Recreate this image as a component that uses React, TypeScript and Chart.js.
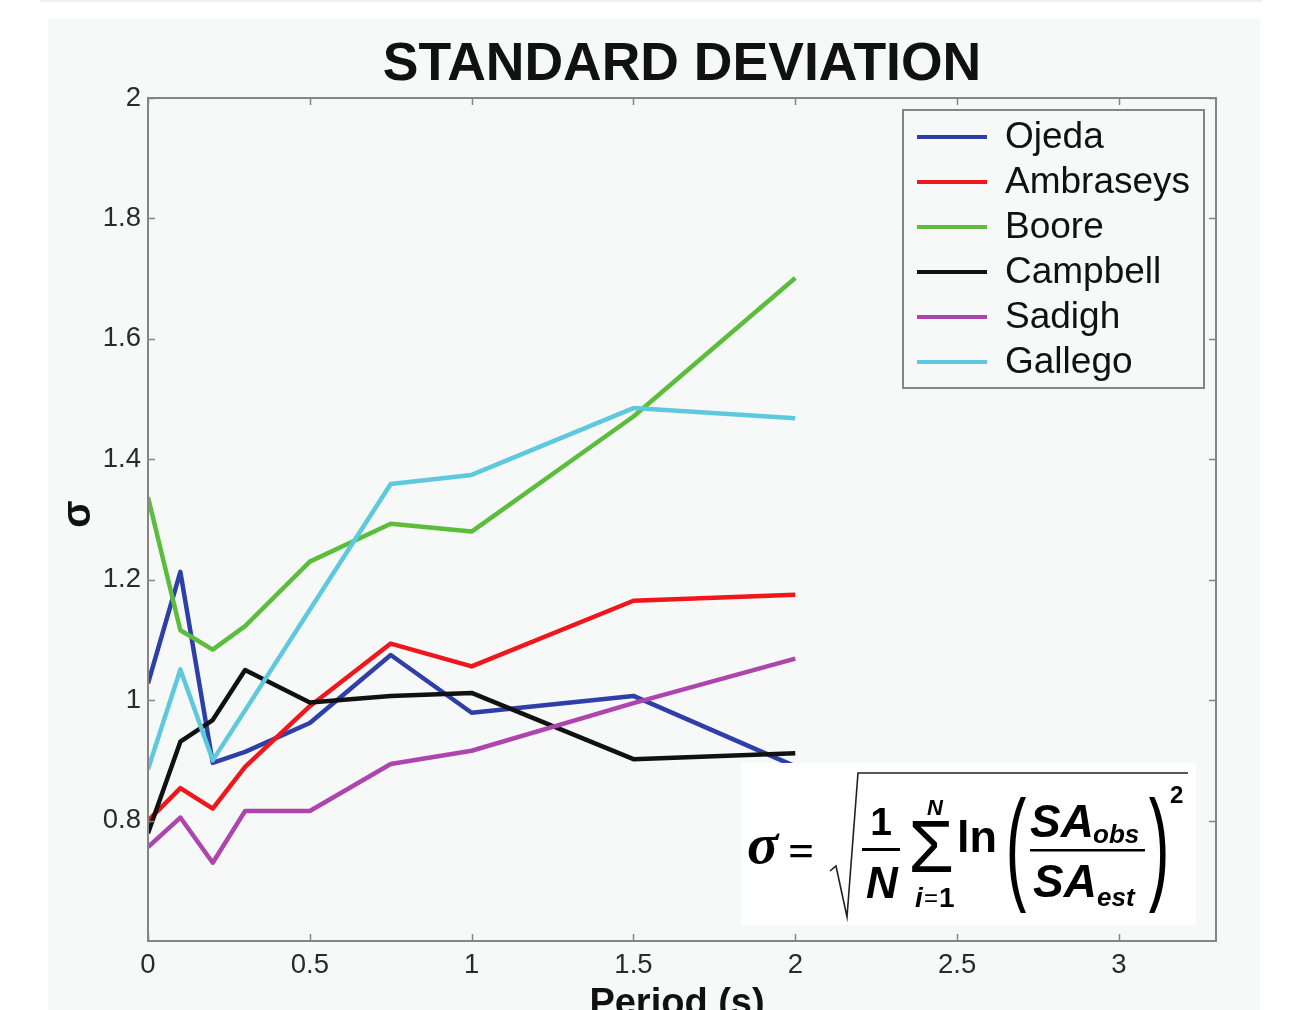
import React, { useEffect, useRef } from "react";
import { Chart, registerables } from "chart.js";

Chart.register(...registerables);

// ---- data ----
const periods = [0, 0.1, 0.2, 0.3, 0.5, 0.75, 1, 1.5, 2];
const ojeda = [1.028, 1.213, 0.896, 0.914, 0.962, 1.075, 0.979, 1.007, 0.89];
const ambraseys = [0.8, 0.854, 0.82, 0.889, 0.99, 1.094, 1.056, 1.165, 1.175];
const boore = [1.337, 1.116, 1.084, 1.123, 1.23, 1.293, 1.28, 1.471, 1.701];
const campbell = [0.779, 0.931, 0.967, 1.05, 0.996, 1.007, 1.012, 0.902, 0.912];
const sadigh = [0.756, 0.805, 0.73, 0.816, 0.816, 0.894, 0.916, 0.995, 1.069];
const gallego = [0.885, 1.051, 0.9, 0.983, 1.15, 1.359, 1.374, 1.485, 1.468];

const seriesNames = ["Ojeda", "Ambraseys", "Boore", "Campbell", "Sadigh", "Gallego"];
const seriesValues = [ojeda, ambraseys, boore, campbell, sadigh, gallego];
const seriesColors = ["#2f3fa8", "#f0171c", "#5bbd3b", "#111111", "#ad45ad", "#5ec8dc"];

const xTicks = [0, 0.5, 1, 1.5, 2, 2.5, 3];
const yTicks = [0.8, 1, 1.2, 1.4, 1.6, 1.8, 2];
const xMin = 0;
const xMax = 3.3;
const yMin = 0.6;
const yMax = 2;

const chartTitle = "STANDARD DEVIATION";
const xTitle = "Period (s)";
const yTitle = "σ";

const SANS = '"Liberation Sans", Arial, Helvetica, sans-serif';
const SERIF = '"Liberation Serif", "Times New Roman", serif';
const fmt = (v: number) => String(+Number(v).toFixed(2));

// canvas sits at page (48,18)
const OX = 48;
const OY = 18;

const decorPlugin = {
  id: "decor",
  afterDatasetsDraw(chart: any) {
    const ctx = chart.ctx as CanvasRenderingContext2D;
    const { left, right, top, bottom } = chart.chartArea;
    const xs = chart.scales.x;
    const ys = chart.scales.y;
    ctx.save();
    // axes box
    ctx.strokeStyle = "#858585";
    ctx.lineWidth = 2;
    ctx.strokeRect(left, top, right - left, bottom - top);
    // inward ticks
    ctx.lineWidth = 1.5;
    ctx.beginPath();
    const tl = 7;
    xTicks.forEach((v) => {
      const px = Math.round(xs.getPixelForValue(v)) + 0.5;
      ctx.moveTo(px, bottom);
      ctx.lineTo(px, bottom - tl);
      ctx.moveTo(px, top);
      ctx.lineTo(px, top + tl);
    });
    yTicks.forEach((v) => {
      const py = Math.round(ys.getPixelForValue(v)) + 0.5;
      ctx.moveTo(left, py);
      ctx.lineTo(left + tl, py);
      ctx.moveTo(right, py);
      ctx.lineTo(right - tl, py);
    });
    ctx.stroke();

    // title
    ctx.fillStyle = "#111";
    ctx.textAlign = "center";
    ctx.textBaseline = "alphabetic";
    ctx.font = `bold 53.5px ${SANS}`;
    ctx.fillText(chartTitle, 682 - OX, 80 - OY);
    // x title
    ctx.font = `bold 38px ${SANS}`;
    ctx.fillText(xTitle, 677 - OX, 1015 - OY);
    // y title
    ctx.save();
    ctx.translate(79 - OX, 514 - OY);
    ctx.rotate(-Math.PI / 2);
    ctx.textBaseline = "middle";
    ctx.font = `bold 40px ${SANS}`;
    ctx.fillText(yTitle, 0, 0);
    ctx.restore();

    // legend
    const lx0 = 903 - OX, ly0 = 110 - OY, lw = 301, lh = 278;
    ctx.fillStyle = "#f7f9f9";
    ctx.fillRect(lx0, ly0, lw, lh);
    ctx.strokeStyle = "#858585";
    ctx.lineWidth = 2;
    ctx.strokeRect(lx0, ly0, lw, lh);
    chart.data.datasets.forEach((ds: any, i: number) => {
      const cy = 137 - OY + i * 45;
      ctx.strokeStyle = ds.borderColor;
      ctx.lineWidth = 4;
      ctx.beginPath();
      ctx.moveTo(917 - OX, cy);
      ctx.lineTo(987 - OX, cy);
      ctx.stroke();
      ctx.fillStyle = "#111";
      ctx.textAlign = "left";
      ctx.textBaseline = "middle";
      ctx.font = `37px ${SANS}`;
      ctx.fillText(ds.label, 1005 - OX, cy + 1);
    });

    // formula box
    ctx.translate(-OX, -OY);
    ctx.fillStyle = "#ffffff";
    ctx.fillRect(741, 763, 455, 162);
    ctx.fillStyle = "#000";
    ctx.textBaseline = "alphabetic";
    ctx.textAlign = "left";
    ctx.font = `italic bold 58px ${SERIF}`;
    ctx.fillText("σ", 747, 863);
    ctx.font = `bold 46px ${SERIF}`;
    ctx.fillText("=", 788, 866);
    // radical
    ctx.strokeStyle = "#222";
    ctx.lineWidth = 1.6;
    ctx.beginPath();
    ctx.moveTo(830, 871);
    ctx.lineTo(836, 866);
    ctx.lineTo(847, 917);
    ctx.lineTo(858, 773);
    ctx.lineTo(1188, 773);
    ctx.stroke();
    // 1/N
    ctx.textAlign = "center";
    ctx.font = `bold 39px ${SANS}`;
    ctx.fillText("1", 881, 835);
    ctx.fillRect(862, 848, 38, 3);
    ctx.font = `italic bold 44px ${SANS}`;
    ctx.fillText("N", 882, 898);
    // sum
    ctx.font = `74px ${SANS}`;
    ctx.fillText("Σ", 931, 872);
    ctx.font = `italic bold 22px ${SANS}`;
    ctx.fillText("N", 935, 815);
    ctx.textAlign = "left";
    ctx.font = `italic bold 28px ${SANS}`;
    ctx.fillText("i", 915, 907);
    ctx.font = `24px ${SANS}`;
    ctx.fillText("=", 924, 906);
    ctx.font = `bold 28px ${SANS}`;
    ctx.fillText("1", 939, 907);
    // ln
    ctx.font = `bold 45px ${SANS}`;
    ctx.fillText("ln", 957, 852);
    // parens
    const paren = (ch: string, x: number) => {
      ctx.save();
      ctx.translate(x, 853);
      ctx.scale(1, 2.0);
      ctx.textAlign = "center";
      ctx.textBaseline = "middle";
      ctx.font = `62px ${SANS}`;
      ctx.fillText(ch, 0, 0);
      ctx.restore();
    };
    paren("(", 1016);
    paren(")", 1159);
    // fraction SA_obs / SA_est
    ctx.textAlign = "left";
    ctx.font = `italic bold 46px ${SANS}`;
    ctx.fillText("SA", 1030, 837);
    ctx.fillText("SA", 1033, 897);
    ctx.font = `italic bold 26px ${SANS}`;
    ctx.fillText("obs", 1093, 843);
    ctx.fillText("est", 1097, 906);
    ctx.fillRect(1030, 849, 115, 2.5);
    // exponent
    ctx.font = `bold 24px ${SANS}`;
    ctx.fillText("2", 1170, 803);
    ctx.restore();
  },
};

export default function App() {
  const ref = useRef<HTMLCanvasElement>(null);
  useEffect(() => {
    const canvas = ref.current;
    if (!canvas) return;
    const chart = new Chart(canvas, {
      type: "line",
      data: {
        datasets: seriesNames.map((name, i) => ({
          label: name,
          data: periods.map((p, j) => ({ x: p, y: seriesValues[i][j] })),
          borderColor: seriesColors[i],
          backgroundColor: seriesColors[i],
          borderWidth: 4.5,
          pointRadius: 0,
          tension: 0,
          borderJoinStyle: "round",
          order: seriesNames.length - 1 - i,
        })),
      },
      options: {
        animation: false,
        responsive: false,
        devicePixelRatio: 1,
        events: [],
        layout: { padding: { left: 0, top: 80, right: 44, bottom: 0 } },
        plugins: {
          legend: { display: false },
          title: { display: false },
          tooltip: { enabled: false },
        },
        scales: {
          x: {
            type: "linear",
            min: xMin,
            max: xMax,
            afterBuildTicks: (s: any) => {
              s.ticks = xTicks.map((value) => ({ value }));
            },
            afterFit: (s: any) => {
              s.height = 87;
            },
            grid: { display: false, drawTicks: false },
            border: { display: false },
            ticks: {
              autoSkip: false,
              maxRotation: 0,
              padding: 8,
              color: "#2a2a2a",
              font: { family: SANS, size: 27.5 },
              callback: (v: any) => fmt(v),
            },
          },
          y: {
            type: "linear",
            min: yMin,
            max: yMax,
            afterBuildTicks: (s: any) => {
              s.ticks = yTicks.map((value) => ({ value }));
            },
            afterFit: (s: any) => {
              s.width = 100;
            },
            grid: { display: false, drawTicks: false },
            border: { display: false },
            ticks: {
              autoSkip: false,
              padding: 7,
              color: "#2a2a2a",
              font: { family: SANS, size: 27.5 },
              callback: (v: any) => fmt(v),
            },
          },
        },
      },
      plugins: [decorPlugin],
    } as any);
    return () => chart.destroy();
  }, []);

  return (
    <div
      style={{
        position: "fixed",
        left: 0,
        top: 0,
        width: 1291,
        height: 1010,
        overflow: "hidden",
        background: "#ffffff",
      }}
    >
      <div style={{ position: "absolute", left: 40, top: 0, width: 1222, height: 2, background: "#efefef" }} />
      <div
        style={{
          position: "absolute",
          left: 48,
          top: 18,
          width: 1212,
          height: 992,
          background: "#f7f9f9",
        }}
      >
        <canvas ref={ref} width={1212} height={1010} style={{ position: "absolute", left: 0, top: 0 }} />
      </div>
    </div>
  );
}
